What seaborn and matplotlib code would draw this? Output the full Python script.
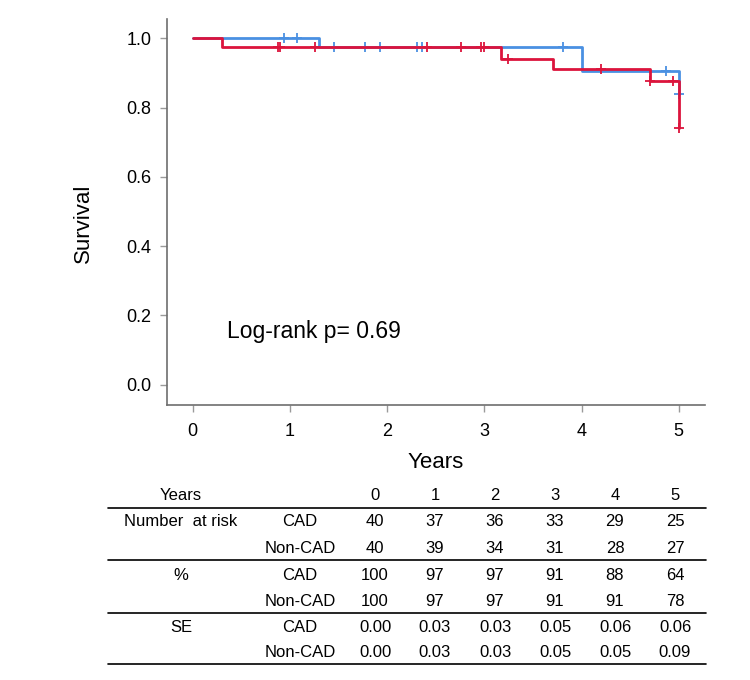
import matplotlib
matplotlib.use("Agg")
import matplotlib.pyplot as plt
import numpy as np
import pandas as pd
import seaborn as sns
from matplotlib.lines import Line2D

# Kaplan-Meier step curves
cad_times = [0.0, 1.30, 4.00, 5.00]
cad_surv = [1.0, 0.975, 0.905, 0.84]
cad_censor = [0.94, 1.07, 1.45, 1.77, 1.93, 2.31, 2.36, 3.81, 4.87, 5.00]

noncad_times = [0.0, 0.30, 3.17, 3.71, 4.70, 5.00]
noncad_surv = [1.0, 0.975, 0.941, 0.911, 0.876, 0.74]
noncad_censor = [0.875, 0.90, 1.26, 2.41, 2.76, 2.97, 3.00, 3.24, 4.20, 4.70, 4.94, 5.00]

# risk table
table_years = [0, 1, 2, 3, 4, 5]
at_risk_cad = [40, 37, 36, 33, 29, 25]
at_risk_noncad = [40, 39, 34, 31, 28, 27]
pct_cad = [100, 97, 97, 91, 88, 64]
pct_noncad = [100, 97, 97, 91, 91, 78]
se_cad = [0.00, 0.03, 0.03, 0.05, 0.06, 0.06]
se_noncad = [0.00, 0.03, 0.03, 0.05, 0.05, 0.09]

BLUE = "#4A90E2"
RED = "#DC143C"
W, H = 750, 680


def step_value(times, surv, t):
    idx = np.searchsorted(times, t, side="right") - 1
    return surv[idx]


def curve_frame(times, surv, censor, name):
    line = pd.DataFrame({"time": times, "surv": surv, "group": name})
    marks = pd.DataFrame({"time": censor,
                          "surv": [step_value(times, surv, t) for t in censor],
                          "group": name})
    return line, marks


sns.set_style("ticks")
plt.rcParams["font.family"] = ["Liberation Sans", "DejaVu Sans"]
plt.rcParams["text.color"] = "black"
plt.rcParams["axes.labelcolor"] = "black"

fig = plt.figure(figsize=(W / 100, H / 100), dpi=100)
ax = fig.add_axes([167 / W, 1 - 405 / H, 538 / W, 386 / H])

for times, surv, censor, name, color, z in [
    (cad_times, cad_surv, cad_censor, "CAD", BLUE, 2),
    (noncad_times, noncad_surv, noncad_censor, "Non-CAD", RED, 3),
]:
    line_df, mark_df = curve_frame(times, surv, censor, name)
    sns.lineplot(data=line_df, x="time", y="surv", ax=ax, color=color, lw=2.0,
                 drawstyle="steps-post", estimator=None, sort=False, zorder=z)
    sns.scatterplot(data=mark_df, x="time", y="surv", ax=ax, color=color, marker="+",
                    s=45, linewidth=1.3, zorder=z + 0.5)

ax.set_xlim(-0.264, 5.27)
ax.set_ylim(-0.059, 1.056)
ax.set_xticks(table_years)
ax.set_yticks([0.0, 0.2, 0.4, 0.6, 0.8, 1.0])
ax.set_yticklabels([f"{v:.1f}" for v in [0.0, 0.2, 0.4, 0.6, 0.8, 1.0]])
sns.despine(ax=ax)
for side in ["left", "bottom"]:
    ax.spines[side].set_color("#6e6e6e")
    ax.spines[side].set_linewidth(1.2)
ax.tick_params(axis="both", direction="out", length=5, width=1, color="#9a9a9a",
               labelsize=13, labelcolor="black")
ax.tick_params(axis="x", pad=8)
ax.tick_params(axis="y", pad=6)

ax.set_xlabel("Years", fontsize=16)
ax.set_ylabel("Survival", fontsize=16)
ax.xaxis.set_label_coords(0.5, -0.122)
ax.yaxis.set_label_coords(-0.135, 0.47)

ax.text(0.35, 0.154, "Log-rank p= 0.69", fontsize=16.5, ha="left", va="center")

# risk table below the plot
def fx(px):
    return px / W


def fy(py):
    return 1 - py / H


col_label_x = 181
col_group_x = 300
col_year_x = [375, 435, 495, 555, 615, 675]
row_y = [496, 521.7, 548.3, 575, 601, 627, 652.3]
rule_y = [507.7, 560, 612.7, 664.3]

table_rows = [
    ("Years", "", [str(y) for y in table_years]),
    ("Number  at risk", "CAD", [str(v) for v in at_risk_cad]),
    ("", "Non-CAD", [str(v) for v in at_risk_noncad]),
    ("%", "CAD", [str(v) for v in pct_cad]),
    ("", "Non-CAD", [str(v) for v in pct_noncad]),
    ("SE", "CAD", [f"{v:.2f}" for v in se_cad]),
    ("", "Non-CAD", [f"{v:.2f}" for v in se_noncad]),
]

for (label, group, values), py in zip(table_rows, row_y):
    fig.text(fx(col_label_x), fy(py), label, fontsize=12, ha="center", va="center")
    fig.text(fx(col_group_x), fy(py), group, fontsize=12, ha="center", va="center")
    for px, val in zip(col_year_x, values):
        fig.text(fx(px), fy(py), val, fontsize=12, ha="center", va="center")

for py in rule_y:
    fig.add_artist(Line2D([fx(108), fx(706)], [fy(py), fy(py)], color="black", lw=1.2,
                          transform=fig.transFigure))

fig.savefig("out.png", dpi=100)
plt.close(fig)
